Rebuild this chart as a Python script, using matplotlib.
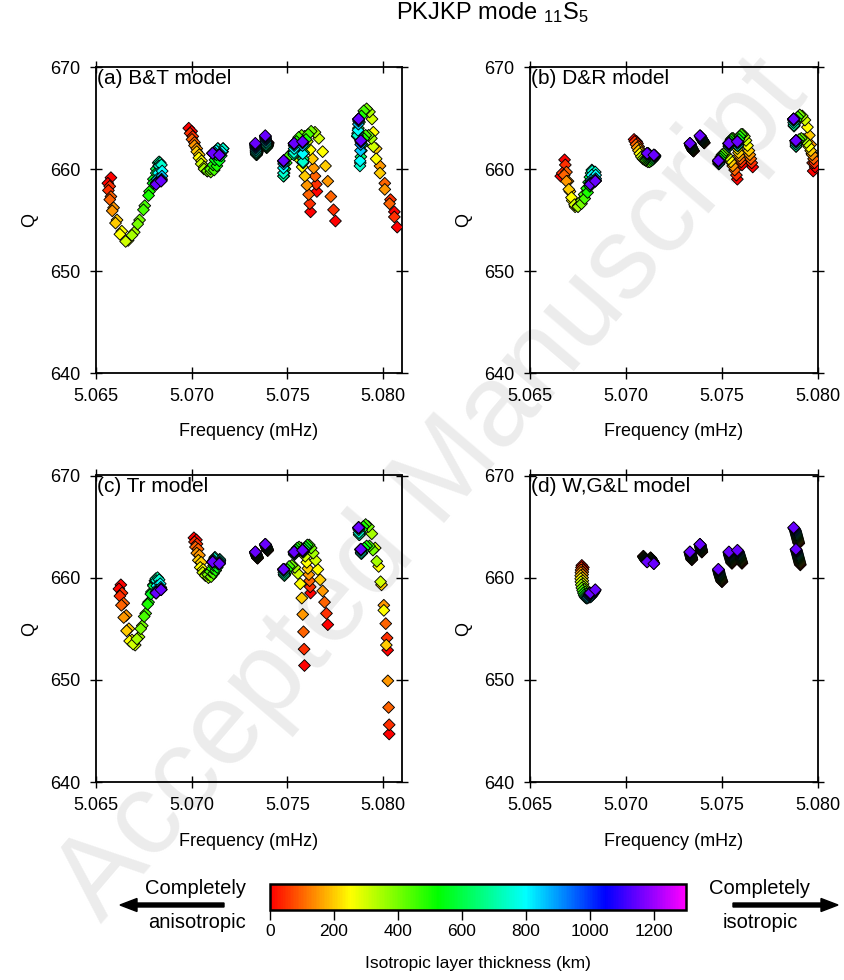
import numpy as np
import matplotlib
matplotlib.use('Agg')
import matplotlib.pyplot as plt
from matplotlib.colors import LinearSegmentedColormap, Normalize
from matplotlib.patches import FancyArrow
import matplotlib.cm as cm

plt.rcParams['font.family'] = ['Liberation Sans', 'DejaVu Sans']
plt.rcParams['mathtext.fontset'] = 'custom'
plt.rcParams['mathtext.rm'] = 'Liberation Sans'
plt.rcParams['mathtext.it'] = 'Liberation Sans:italic'
plt.rcParams['mathtext.bf'] = 'Liberation Sans:bold'
plt.rcParams['mathtext.sf'] = 'Liberation Sans'

# ---------------- data ----------------
THICKNESS_KM = [0, 50, 100, 150, 200, 250, 300, 350, 400, 450, 500, 550,
                600, 650, 700, 750, 800, 850, 900, 950, 1000, 1050, 1100, 1150]

# (a) B&T model : 11 singlets, frequency (mHz) and Q for each thickness
BT_FREQ = [
    [5.06578, 5.06572, 5.06578, 5.06592, 5.06610, 5.06635, 5.06668, 5.06700, 5.06728, 5.06755, 5.06780, 5.06800,
     5.06815, 5.06825, 5.06830, 5.06830, 5.06826, 5.06820, 5.06817, 5.06815, 5.06814, 5.06814, 5.06814, 5.06814],
    [5.06562, 5.06565, 5.06572, 5.06585, 5.06602, 5.06625, 5.06655, 5.06688, 5.06718, 5.06748, 5.06775, 5.06798,
     5.06815, 5.06828, 5.06836, 5.06842, 5.06846, 5.06845, 5.06843, 5.06841, 5.06840, 5.06840, 5.06840, 5.06840],
    [5.06985, 5.06992, 5.07002, 5.07015, 5.07027, 5.07038, 5.07050, 5.07065, 5.07082, 5.07098, 5.07112, 5.07122,
     5.07130, 5.07135, 5.07138, 5.07136, 5.07128, 5.07118, 5.07113, 5.07111, 5.07110, 5.07110, 5.07110, 5.07110],
    [5.07000, 5.07006, 5.07015, 5.07027, 5.07040, 5.07052, 5.07066, 5.07082, 5.07100, 5.07118, 5.07132, 5.07145,
     5.07155, 5.07162, 5.07165, 5.07164, 5.07158, 5.07150, 5.07147, 5.07146, 5.07145, 5.07145, 5.07145, 5.07145],
    [5.07345, 5.07345, 5.07344, 5.07344, 5.07343, 5.07343, 5.07342, 5.07342, 5.07341, 5.07340, 5.07340, 5.07339,
     5.07338, 5.07338, 5.07337, 5.07337, 5.07336, 5.07336, 5.07335, 5.07335, 5.07334, 5.07334, 5.07333, 5.07333],
    [5.07400, 5.07400, 5.07399, 5.07399, 5.07398, 5.07398, 5.07397, 5.07396, 5.07395, 5.07394, 5.07393, 5.07392,
     5.07391, 5.07390, 5.07389, 5.07389, 5.07388, 5.07388, 5.07387, 5.07387, 5.07386, 5.07386, 5.07385, 5.07385],
    [5.07622, 5.07618, 5.07612, 5.07603, 5.07592, 5.07578, 5.07560, 5.07540, 5.07520, 5.07505, 5.07495, 5.07488,
     5.07484, 5.07482, 5.07480, 5.07480, 5.07480, 5.07481, 5.07481, 5.07481, 5.07481, 5.07481, 5.07481, 5.07481],
    [5.07655, 5.07652, 5.07645, 5.07638, 5.07632, 5.07620, 5.07605, 5.07590, 5.07575, 5.07560, 5.07548, 5.07540,
     5.07536, 5.07534, 5.07534, 5.07535, 5.07536, 5.07536, 5.07536, 5.07536, 5.07536, 5.07536, 5.07536, 5.07536],
    [5.07752, 5.07742, 5.07728, 5.07712, 5.07700, 5.07685, 5.07665, 5.07645, 5.07625, 5.07610, 5.07598, 5.07590,
     5.07586, 5.07584, 5.07583, 5.07582, 5.07581, 5.07580, 5.07580, 5.07580, 5.07580, 5.07580, 5.07580, 5.07580],
    [5.08060, 5.08040, 5.08010, 5.07985, 5.07965, 5.07950, 5.07943, 5.07930, 5.07915, 5.07900, 5.07888, 5.07878,
     5.07872, 5.07868, 5.07866, 5.07867, 5.07870, 5.07872, 5.07873, 5.07873, 5.07873, 5.07873, 5.07873, 5.07873],
    [5.08075, 5.08060, 5.08035, 5.08010, 5.07985, 5.07965, 5.07950, 5.07940, 5.07925, 5.07910, 5.07900, 5.07893,
     5.07888, 5.07885, 5.07882, 5.07880, 5.07881, 5.07883, 5.07884, 5.07885, 5.07885, 5.07885, 5.07885, 5.07885],
]
BT_Q = [
    [659.15, 658.3, 657.3, 656.2, 655.0, 653.9, 653.0, 653.8, 655.0, 656.4, 657.8, 659.0,
     660.0, 660.6, 660.7, 660.3, 659.6, 659.0, 658.7, 658.6, 658.55, 658.52, 658.5, 658.5],
    [658.6, 657.9, 657.0, 655.9, 654.7, 653.6, 652.9, 653.5, 654.6, 656.0, 657.4, 658.6,
     659.6, 660.3, 660.6, 660.4, 659.8, 659.3, 659.0, 658.9, 658.85, 658.83, 658.82, 658.82],
    [664.0, 663.5, 662.9, 662.3, 661.7, 661.1, 660.5, 660.0, 659.8, 660.0, 660.4, 660.9,
     661.4, 661.8, 662.0, 662.0, 661.8, 661.65, 661.58, 661.55, 661.54, 661.54, 661.54, 661.54],
    [663.7, 663.2, 662.6, 662.0, 661.4, 660.8, 660.2, 659.8, 659.7, 659.9, 660.3, 660.8,
     661.3, 661.7, 662.0, 662.0, 661.7, 661.5, 661.42, 661.39, 661.38, 661.37, 661.37, 661.37],
    [661.9, 661.85, 661.8, 661.75, 661.7, 661.65, 661.6, 661.55, 661.5, 661.45, 661.4, 661.4,
     661.45, 661.5, 661.6, 661.7, 661.85, 662.0, 662.1, 662.2, 662.3, 662.4, 662.47, 662.52],
    [662.6, 662.55, 662.5, 662.45, 662.4, 662.35, 662.3, 662.25, 662.2, 662.15, 662.1, 662.1,
     662.15, 662.25, 662.35, 662.5, 662.65, 662.8, 662.9, 663.0, 663.1, 663.18, 663.23, 663.27],
    [655.8, 656.6, 657.5, 658.4, 659.3, 660.2, 661.0, 661.5, 661.5, 661.2, 660.6, 660.0,
     659.6, 659.3, 659.3, 659.6, 660.1, 660.5, 660.7, 660.78, 660.8, 660.82, 660.82, 660.82],
    [657.8, 658.5, 659.3, 660.1, 661.0, 661.9, 662.7, 663.2, 663.3, 663.1, 662.7, 662.2,
     661.8, 661.5, 661.4, 661.6, 662.0, 662.3, 662.45, 662.5, 662.52, 662.52, 662.52, 662.52],
    [654.9, 656.0, 657.3, 658.8, 660.3, 661.7, 663.0, 663.6, 663.7, 663.4, 662.9, 662.3,
     661.6, 661.0, 660.6, 660.7, 661.5, 662.3, 662.55, 662.63, 662.66, 662.68, 662.68, 662.68],
    [655.8, 657.0, 658.6, 660.3, 662.0, 663.6, 664.9, 665.6, 665.9, 665.7, 665.2, 664.6,
     664.0, 663.5, 663.2, 663.3, 663.8, 664.4, 664.7, 664.82, 664.87, 664.9, 664.9, 664.9],
    [654.3, 655.3, 656.6, 658.0, 659.6, 661.0, 662.2, 663.0, 663.3, 663.3, 663.0, 662.4,
     661.8, 661.2, 660.6, 660.3, 660.8, 661.8, 662.4, 662.65, 662.74, 662.78, 662.78, 662.78],
]

# (b) D&R model
DR_FREQ = [
    [5.06680, 5.06684, 5.06690, 5.06698, 5.06708, 5.06720, 5.06735, 5.06752, 5.06768, 5.06782, 5.06795, 5.06805,
     5.06812, 5.06818, 5.06822, 5.06824, 5.06822, 5.06818, 5.06815, 5.06814, 5.06814, 5.06814, 5.06814, 5.06814],
    [5.06660, 5.06668, 5.06678, 5.06690, 5.06702, 5.06716, 5.06732, 5.06750, 5.06768, 5.06785, 5.06800, 5.06812,
     5.06822, 5.06830, 5.06836, 5.06840, 5.06842, 5.06842, 5.06841, 5.06840, 5.06840, 5.06840, 5.06840, 5.06840],
    [5.07042, 5.07046, 5.07052, 5.07058, 5.07065, 5.07072, 5.07080, 5.07088, 5.07096, 5.07104, 5.07110, 5.07115,
     5.07118, 5.07120, 5.07120, 5.07119, 5.07118, 5.07116, 5.07114, 5.07113, 5.07112, 5.07111, 5.07110, 5.07110],
    [5.07055, 5.07060, 5.07066, 5.07073, 5.07080, 5.07088, 5.07096, 5.07105, 5.07114, 5.07123, 5.07131, 5.07138,
     5.07143, 5.07147, 5.07150, 5.07151, 5.07151, 5.07150, 5.07149, 5.07148, 5.07147, 5.07146, 5.07145, 5.07145],
    [5.07352, 5.07351, 5.07350, 5.07349, 5.07348, 5.07347, 5.07346, 5.07345, 5.07344, 5.07343, 5.07342, 5.07341,
     5.07340, 5.07339, 5.07338, 5.07337, 5.07336, 5.07336, 5.07335, 5.07335, 5.07334, 5.07334, 5.07333, 5.07333],
    [5.07408, 5.07407, 5.07406, 5.07405, 5.07404, 5.07403, 5.07402, 5.07401, 5.07400, 5.07399, 5.07398, 5.07397,
     5.07396, 5.07395, 5.07394, 5.07393, 5.07392, 5.07391, 5.07390, 5.07389, 5.07388, 5.07387, 5.07386, 5.07385],
    [5.07580, 5.07575, 5.07566, 5.07556, 5.07546, 5.07536, 5.07526, 5.07516, 5.07508, 5.07500, 5.07494, 5.07490,
     5.07487, 5.07485, 5.07484, 5.07483, 5.07483, 5.07482, 5.07482, 5.07482, 5.07481, 5.07481, 5.07481, 5.07481],
    [5.07604, 5.07600, 5.07595, 5.07590, 5.07586, 5.07580, 5.07572, 5.07565, 5.07558, 5.07552, 5.07547, 5.07543,
     5.07540, 5.07538, 5.07537, 5.07536, 5.07536, 5.07536, 5.07536, 5.07536, 5.07536, 5.07536, 5.07536, 5.07536],
    [5.07660, 5.07655, 5.07650, 5.07645, 5.07640, 5.07633, 5.07625, 5.07617, 5.07608, 5.07600, 5.07593, 5.07588,
     5.07585, 5.07583, 5.07582, 5.07581, 5.07581, 5.07580, 5.07580, 5.07580, 5.07580, 5.07580, 5.07580, 5.07580],
    [5.07975, 5.07972, 5.07968, 5.07962, 5.07955, 5.07945, 5.07932, 5.07918, 5.07905, 5.07895, 5.07887, 5.07881,
     5.07877, 5.07875, 5.07874, 5.07873, 5.07873, 5.07873, 5.07873, 5.07873, 5.07873, 5.07873, 5.07873, 5.07873],
    [5.07985, 5.07982, 5.07977, 5.07970, 5.07962, 5.07952, 5.07940, 5.07926, 5.07913, 5.07902, 5.07894, 5.07889,
     5.07887, 5.07886, 5.07885, 5.07885, 5.07885, 5.07885, 5.07885, 5.07885, 5.07885, 5.07885, 5.07885, 5.07885],
]
DR_Q = [
    [660.9, 660.4, 659.7, 658.8, 657.8, 656.9, 656.3, 656.4, 656.9, 657.5, 658.1, 658.7,
     659.2, 659.6, 659.9, 659.8, 659.4, 658.9, 658.65, 658.55, 658.52, 658.5, 658.5, 658.5],
    [659.3, 659.6, 659.4, 658.8, 658.0, 657.2, 656.5, 656.3, 656.6, 657.1, 657.7, 658.3,
     658.9, 659.4, 659.7, 659.7, 659.4, 659.05, 658.9, 658.85, 658.83, 658.82, 658.82, 658.82],
    [662.9, 662.7, 662.4, 662.1, 661.8, 661.5, 661.2, 661.0, 660.9, 660.9, 661.0, 661.1,
     661.2, 661.3, 661.4, 661.45, 661.5, 661.5, 661.5, 661.5, 661.52, 661.53, 661.54, 661.54],
    [662.7, 662.5, 662.2, 661.9, 661.6, 661.3, 661.0, 660.8, 660.7, 660.7, 660.8, 660.9,
     661.0, 661.1, 661.2, 661.25, 661.3, 661.3, 661.32, 661.33, 661.35, 661.36, 661.37, 661.37],
    [661.75, 661.78, 661.81, 661.84, 661.87, 661.9, 661.93, 661.96, 662.0, 662.04, 662.08, 662.12,
     662.16, 662.2, 662.24, 662.28, 662.32, 662.36, 662.4, 662.43, 662.46, 662.49, 662.51, 662.52],
    [662.55, 662.58, 662.61, 662.64, 662.67, 662.7, 662.73, 662.76, 662.79, 662.82, 662.85, 662.88,
     662.91, 662.94, 662.97, 663.0, 663.04, 663.08, 663.12, 663.16, 663.2, 663.23, 663.25, 663.27],
    [659.0, 659.4, 659.9, 660.3, 660.7, 661.0, 661.3, 661.5, 661.5, 661.4, 661.2, 661.0,
     660.8, 660.6, 660.5, 660.5, 660.6, 660.72, 660.78, 660.81, 660.82, 660.82, 660.82, 660.82],
    [660.4, 660.7, 661.0, 661.3, 661.6, 662.0, 662.4, 662.8, 663.0, 663.0, 662.9, 662.7,
     662.5, 662.3, 662.2, 662.2, 662.35, 662.45, 662.5, 662.52, 662.52, 662.52, 662.52, 662.52],
    [660.2, 660.6, 661.0, 661.4, 661.8, 662.3, 662.8, 663.2, 663.4, 663.4, 663.2, 662.9,
     662.6, 662.4, 662.25, 662.3, 662.5, 662.62, 662.66, 662.68, 662.68, 662.68, 662.68, 662.68],
    [659.8, 660.6, 661.5, 662.4, 663.3, 664.1, 664.8, 665.2, 665.3, 665.1, 664.8, 664.5,
     664.3, 664.2, 664.3, 664.55, 664.75, 664.85, 664.88, 664.9, 664.9, 664.9, 664.9, 664.9],
    [660.2, 660.6, 661.0, 661.4, 661.8, 662.2, 662.6, 662.9, 663.0, 662.9, 662.7, 662.5,
     662.3, 662.2, 662.25, 662.45, 662.62, 662.72, 662.76, 662.78, 662.78, 662.78, 662.78, 662.78],
]

# (c) Tr model
TR_FREQ = [
    [5.06630, 5.06636, 5.06645, 5.06658, 5.06672, 5.06688, 5.06705, 5.06725, 5.06742, 5.06760, 5.06775, 5.06790,
     5.06800, 5.06808, 5.06813, 5.06816, 5.06818, 5.06817, 5.06815, 5.06814, 5.06814, 5.06814, 5.06814, 5.06814],
    [5.06620, 5.06625, 5.06633, 5.06645, 5.06660, 5.06676, 5.06694, 5.06714, 5.06734, 5.06752, 5.06770, 5.06787,
     5.06800, 5.06812, 5.06822, 5.06830, 5.06836, 5.06839, 5.06840, 5.06840, 5.06840, 5.06840, 5.06840, 5.06840],
    [5.07012, 5.07015, 5.07020, 5.07027, 5.07035, 5.07045, 5.07058, 5.07072, 5.07085, 5.07098, 5.07108, 5.07115,
     5.07120, 5.07122, 5.07122, 5.07120, 5.07115, 5.07112, 5.07110, 5.07110, 5.07110, 5.07110, 5.07110, 5.07110],
    [5.07025, 5.07028, 5.07034, 5.07041, 5.07050, 5.07060, 5.07073, 5.07088, 5.07102, 5.07115, 5.07126, 5.07134,
     5.07140, 5.07144, 5.07147, 5.07148, 5.07147, 5.07146, 5.07145, 5.07145, 5.07145, 5.07145, 5.07145, 5.07145],
    [5.07345, 5.07344, 5.07344, 5.07343, 5.07343, 5.07342, 5.07342, 5.07341, 5.07340, 5.07340, 5.07339, 5.07338,
     5.07338, 5.07337, 5.07337, 5.07336, 5.07336, 5.07335, 5.07335, 5.07334, 5.07334, 5.07333, 5.07333, 5.07333],
    [5.07398, 5.07397, 5.07397, 5.07396, 5.07396, 5.07395, 5.07395, 5.07394, 5.07393, 5.07393, 5.07392, 5.07391,
     5.07391, 5.07390, 5.07389, 5.07389, 5.07388, 5.07388, 5.07387, 5.07387, 5.07386, 5.07386, 5.07385, 5.07385],
    [5.07590, 5.07588, 5.07585, 5.07581, 5.07576, 5.07568, 5.07556, 5.07540, 5.07524, 5.07510, 5.07500, 5.07493,
     5.07488, 5.07485, 5.07483, 5.07482, 5.07482, 5.07481, 5.07481, 5.07481, 5.07481, 5.07481, 5.07481, 5.07481],
    [5.07622, 5.07620, 5.07617, 5.07613, 5.07608, 5.07602, 5.07594, 5.07584, 5.07573, 5.07562, 5.07552, 5.07545,
     5.07540, 5.07538, 5.07537, 5.07536, 5.07536, 5.07536, 5.07536, 5.07536, 5.07536, 5.07536, 5.07536, 5.07536],
    [5.07712, 5.07705, 5.07695, 5.07685, 5.07672, 5.07660, 5.07648, 5.07636, 5.07625, 5.07615, 5.07605, 5.07597,
     5.07590, 5.07586, 5.07583, 5.07582, 5.07581, 5.07581, 5.07580, 5.07580, 5.07580, 5.07580, 5.07580, 5.07580],
    [5.08025, 5.08022, 5.08015, 5.08005, 5.07993, 5.07978, 5.07960, 5.07942, 5.07925, 5.07910, 5.07898, 5.07889,
     5.07882, 5.07878, 5.07876, 5.07875, 5.07874, 5.07874, 5.07873, 5.07873, 5.07873, 5.07873, 5.07873, 5.07873],
    [5.08033, 5.08033, 5.08030, 5.08026, 5.08018, 5.08005, 5.07988, 5.07968, 5.07948, 5.07930, 5.07915, 5.07903,
     5.07895, 5.07890, 5.07887, 5.07886, 5.07885, 5.07885, 5.07885, 5.07885, 5.07885, 5.07885, 5.07885, 5.07885],
]
TR_Q = [
    [659.3, 658.5, 657.5, 656.3, 655.0, 653.9, 653.4, 654.2, 655.3, 656.5, 657.6, 658.6,
     659.3, 659.7, 659.9, 659.7, 659.2, 658.8, 658.6, 658.53, 658.5, 658.5, 658.5, 658.5],
    [658.9, 658.2, 657.3, 656.1, 654.8, 653.8, 653.5, 654.0, 655.0, 656.2, 657.4, 658.4,
     659.2, 659.7, 660.0, 659.8, 659.4, 659.05, 658.9, 658.84, 658.82, 658.82, 658.82, 658.82],
    [663.9, 663.5, 663.0, 662.4, 661.7, 661.0, 660.5, 660.2, 660.3, 660.6, 660.9, 661.2,
     661.5, 661.8, 662.0, 661.9, 661.7, 661.6, 661.56, 661.54, 661.54, 661.54, 661.54, 661.54],
    [663.7, 663.3, 662.8, 662.2, 661.5, 660.8, 660.3, 660.0, 660.1, 660.4, 660.7, 661.0,
     661.3, 661.6, 661.8, 661.7, 661.55, 661.45, 661.4, 661.38, 661.37, 661.37, 661.37, 661.37],
    [661.9, 661.93, 661.96, 661.99, 662.02, 662.05, 662.08, 662.11, 662.14, 662.17, 662.2, 662.23,
     662.26, 662.29, 662.32, 662.35, 662.38, 662.41, 662.44, 662.46, 662.48, 662.5, 662.51, 662.52],
    [662.65, 662.68, 662.71, 662.74, 662.77, 662.8, 662.83, 662.86, 662.89, 662.92, 662.95, 662.98,
     663.01, 663.04, 663.07, 663.1, 663.13, 663.16, 663.19, 663.21, 663.23, 663.25, 663.26, 663.27],
    [651.4, 653.0, 654.7, 656.4, 658.0, 659.4, 660.4, 661.0, 661.2, 661.1, 660.8, 660.5,
     660.3, 660.2, 660.3, 660.5, 660.68, 660.77, 660.8, 660.82, 660.82, 660.82, 660.82, 660.82],
    [658.5, 659.1, 659.7, 660.3, 660.9, 661.5, 662.1, 662.6, 662.9, 663.0, 662.9, 662.7,
     662.5, 662.35, 662.25, 662.3, 662.42, 662.49, 662.51, 662.52, 662.52, 662.52, 662.52, 662.52],
    [655.4, 656.5, 657.6, 658.7, 659.8, 660.8, 661.7, 662.4, 662.9, 663.2, 663.2, 663.0,
     662.8, 662.6, 662.5, 662.5, 662.6, 662.65, 662.67, 662.68, 662.68, 662.68, 662.68, 662.68],
    [652.9, 654.1, 655.5, 657.3, 659.3, 661.1, 662.9, 664.3, 665.0, 665.2, 665.0, 664.7,
     664.4, 664.2, 664.2, 664.4, 664.7, 664.84, 664.88, 664.9, 664.9, 664.9, 664.9, 664.9],
    [644.7, 645.6, 647.3, 649.9, 653.4, 656.8, 659.6, 661.6, 662.7, 663.1, 663.1, 662.9,
     662.6, 662.4, 662.35, 662.45, 662.65, 662.74, 662.77, 662.78, 662.78, 662.78, 662.78, 662.78],
]

# (d) W,G&L model
WGL_FREQ = [
    [5.06770, 5.06768, 5.06766, 5.06765, 5.06764, 5.06764, 5.06765, 5.06767, 5.06770, 5.06774, 5.06778, 5.06782,
     5.06786, 5.06790, 5.06794, 5.06798, 5.06801, 5.06804, 5.06807, 5.06809, 5.06811, 5.06812, 5.06813, 5.06814],
    [5.06778, 5.06776, 5.06775, 5.06774, 5.06774, 5.06775, 5.06777, 5.06780, 5.06784, 5.06788, 5.06793, 5.06798,
     5.06803, 5.06808, 5.06813, 5.06818, 5.06822, 5.06826, 5.06830, 5.06833, 5.06836, 5.06838, 5.06839, 5.06840],
    [5.07090, 5.07091, 5.07092, 5.07093, 5.07094, 5.07095, 5.07096, 5.07097, 5.07098, 5.07099, 5.07100, 5.07101,
     5.07102, 5.07103, 5.07104, 5.07105, 5.07106, 5.07107, 5.07107, 5.07108, 5.07109, 5.07109, 5.07110, 5.07110],
    [5.07128, 5.07129, 5.07129, 5.07130, 5.07131, 5.07132, 5.07133, 5.07134, 5.07135, 5.07136, 5.07137, 5.07138,
     5.07139, 5.07139, 5.07140, 5.07141, 5.07141, 5.07142, 5.07143, 5.07143, 5.07144, 5.07144, 5.07145, 5.07145],
    [5.07343, 5.07343, 5.07342, 5.07342, 5.07341, 5.07341, 5.07340, 5.07340, 5.07339, 5.07339, 5.07338, 5.07338,
     5.07337, 5.07337, 5.07336, 5.07336, 5.07335, 5.07335, 5.07334, 5.07334, 5.07334, 5.07333, 5.07333, 5.07333],
    [5.07395, 5.07395, 5.07394, 5.07394, 5.07393, 5.07393, 5.07392, 5.07392, 5.07391, 5.07391, 5.07390, 5.07390,
     5.07389, 5.07389, 5.07388, 5.07388, 5.07387, 5.07387, 5.07386, 5.07386, 5.07386, 5.07385, 5.07385, 5.07385],
    [5.07500, 5.07499, 5.07498, 5.07497, 5.07496, 5.07495, 5.07494, 5.07493, 5.07492, 5.07491, 5.07490, 5.07489,
     5.07488, 5.07487, 5.07486, 5.07485, 5.07485, 5.07484, 5.07483, 5.07483, 5.07482, 5.07482, 5.07481, 5.07481],
    [5.07552, 5.07551, 5.07550, 5.07550, 5.07549, 5.07548, 5.07547, 5.07546, 5.07546, 5.07545, 5.07544, 5.07543,
     5.07542, 5.07542, 5.07541, 5.07540, 5.07539, 5.07539, 5.07538, 5.07538, 5.07537, 5.07537, 5.07536, 5.07536],
    [5.07604, 5.07603, 5.07602, 5.07601, 5.07600, 5.07599, 5.07598, 5.07597, 5.07596, 5.07595, 5.07594, 5.07593,
     5.07592, 5.07591, 5.07590, 5.07589, 5.07588, 5.07587, 5.07586, 5.07585, 5.07584, 5.07582, 5.07581, 5.07580],
    [5.07900, 5.07899, 5.07898, 5.07897, 5.07896, 5.07895, 5.07894, 5.07893, 5.07892, 5.07891, 5.07890, 5.07889,
     5.07888, 5.07887, 5.07886, 5.07885, 5.07884, 5.07883, 5.07882, 5.07880, 5.07878, 5.07876, 5.07874, 5.07873],
    [5.07908, 5.07907, 5.07906, 5.07905, 5.07904, 5.07903, 5.07902, 5.07901, 5.07900, 5.07899, 5.07898, 5.07897,
     5.07896, 5.07895, 5.07894, 5.07893, 5.07892, 5.07891, 5.07890, 5.07889, 5.07888, 5.07887, 5.07886, 5.07885],
]
WGL_Q = [
    [661.2, 661.0, 660.75, 660.5, 660.2, 659.9, 659.6, 659.3, 659.0, 658.75, 658.5, 658.3,
     658.15, 658.05, 658.0, 658.0, 658.05, 658.1, 658.2, 658.28, 658.35, 658.42, 658.47, 658.5],
    [661.0, 660.8, 660.55, 660.3, 660.0, 659.7, 659.4, 659.1, 658.85, 658.6, 658.4, 658.25,
     658.15, 658.1, 658.1, 658.15, 658.25, 658.35, 658.45, 658.55, 658.65, 658.72, 658.78, 658.82],
    [662.1, 662.07, 662.04, 662.01, 661.98, 661.95, 661.92, 661.89, 661.86, 661.83, 661.8, 661.78,
     661.76, 661.73, 661.71, 661.68, 661.66, 661.63, 661.61, 661.59, 661.57, 661.56, 661.55, 661.54],
    [661.95, 661.92, 661.89, 661.86, 661.83, 661.8, 661.77, 661.74, 661.71, 661.68, 661.65, 661.62,
     661.6, 661.57, 661.55, 661.52, 661.5, 661.48, 661.46, 661.44, 661.42, 661.4, 661.38, 661.37],
    [661.75, 661.79, 661.83, 661.87, 661.91, 661.94, 661.97, 662.0, 662.04, 662.08, 662.12, 662.16,
     662.2, 662.24, 662.28, 662.31, 662.34, 662.37, 662.4, 662.43, 662.46, 662.49, 662.51, 662.52],
    [662.5, 662.54, 662.58, 662.62, 662.66, 662.7, 662.74, 662.77, 662.8, 662.84, 662.88, 662.92,
     662.96, 663.0, 663.04, 663.08, 663.12, 663.15, 663.18, 663.21, 663.23, 663.25, 663.26, 663.27],
    [659.6, 659.65, 659.7, 659.75, 659.8, 659.86, 659.92, 659.98, 660.04, 660.1, 660.16, 660.22,
     660.28, 660.34, 660.4, 660.46, 660.52, 660.58, 660.63, 660.68, 660.73, 660.77, 660.8, 660.82],
    [661.4, 661.45, 661.5, 661.55, 661.6, 661.65, 661.7, 661.75, 661.8, 661.85, 661.9, 661.95,
     662.0, 662.05, 662.1, 662.15, 662.2, 662.25, 662.3, 662.35, 662.4, 662.45, 662.49, 662.52],
    [661.4, 661.46, 661.52, 661.58, 661.64, 661.7, 661.76, 661.82, 661.88, 661.94, 662.0, 662.06,
     662.12, 662.18, 662.24, 662.3, 662.36, 662.42, 662.48, 662.53, 662.58, 662.62, 662.65, 662.68],
    [663.35, 663.42, 663.49, 663.56, 663.63, 663.7, 663.77, 663.84, 663.91, 663.98, 664.05, 664.12,
     664.19, 664.26, 664.33, 664.4, 664.47, 664.54, 664.61, 664.68, 664.75, 664.81, 664.86, 664.9],
    [661.25, 661.32, 661.39, 661.46, 661.53, 661.6, 661.67, 661.74, 661.81, 661.88, 661.95, 662.02,
     662.09, 662.16, 662.23, 662.3, 662.37, 662.44, 662.51, 662.57, 662.63, 662.69, 662.74, 662.78],
]

PANEL_LABELS = ['(a) B&T model', '(b) D&R model', '(c) Tr model', '(d) W,G&L model']
X_TICKS = [5.065, 5.070, 5.075, 5.080]
Y_TICKS = [640, 650, 660, 670]
CB_TICKS = [0, 200, 400, 600, 800, 1000, 1200]
CB_RANGE = (0, 1300)

# ---------------- figure ----------------
W, H = 844, 980
fig = plt.figure(figsize=(W / 100, H / 100), dpi=100)


def fx(px):
    return px / W


def fy(py):
    return 1 - py / H


cmap = LinearSegmentedColormap.from_list(
    'iso', [(0.0, '#ff0000'), (250 / 1300, '#ffff00'), (525 / 1300, '#00ff00'),
            (800 / 1300, '#00ffff'), (1050 / 1300, '#0000ff'), (1.0, '#ff00ff')])
norm = Normalize(*CB_RANGE)

# faint watermark behind everything
fig.text(fx(432), fy(490), 'Accepted Manuscript', fontsize=84, rotation=49.5,
         color='#ececec', ha='center', va='center', rotation_mode='anchor', zorder=-5)

panels = [
    (BT_FREQ, BT_Q, PANEL_LABELS[0], (96, 67, 402, 373), (5.065, 5.081)),
    (DR_FREQ, DR_Q, PANEL_LABELS[1], (530, 67, 818, 373), (5.065, 5.080)),
    (TR_FREQ, TR_Q, PANEL_LABELS[2], (96, 475.5, 402, 782), (5.065, 5.081)),
    (WGL_FREQ, WGL_Q, PANEL_LABELS[3], (530, 475.5, 818, 782), (5.065, 5.080)),
]

for freqs, qs, label, (l, t, r, b), xlim in panels:
    ax = fig.add_axes([fx(l), fy(b), (r - l) / W, (b - t) / H])
    ax.set_facecolor('none')
    f_all, q_all, t_all = [], [], []
    for tf, tq in zip(freqs, qs):
        f_all += list(tf)
        q_all += list(tq)
        t_all += THICKNESS_KM
    f_all = np.array(f_all)
    q_all = np.array(q_all)
    t_all = np.array(t_all)
    order = np.argsort(t_all, kind='stable')
    ax.scatter(f_all[order], q_all[order], c=t_all[order], cmap=cmap, norm=norm,
               marker='D', s=36, edgecolors='black', linewidths=0.65, zorder=3)
    ax.set_xlim(*xlim)
    ax.set_ylim(640, 670)
    ax.set_xticks(X_TICKS)
    ax.set_xticklabels(['%.3f' % v for v in X_TICKS])
    ax.set_yticks(Y_TICKS)
    ax.set_yticklabels([str(v) for v in Y_TICKS])
    ax.tick_params(direction='inout', length=8, width=1.0, top=True, right=True,
                   labelsize=13, pad=7, colors='black')
    for sp in ax.spines.values():
        sp.set_linewidth(1.3)
    ax.text(0.004, 0.995, label, transform=ax.transAxes, ha='left', va='top', fontsize=15)
    cx = (l + r) / 2
    fig.text(fx(cx), fy(b + 59), 'Frequency (mHz)', ha='center', va='center', fontsize=13)
    fig.text(fx(l - 66), fy((t + b) / 2), 'Q', ha='center', va='center', rotation=90, fontsize=13)

# title
fig.text(fx(492), fy(19), r'PKJKP mode ${}_{11}\mathrm{S}_{5}$', ha='center', va='baseline', fontsize=17)

# colour bar
cax = fig.add_axes([fx(270), fy(910), (686 - 270) / W, 26 / H])
cb = fig.colorbar(cm.ScalarMappable(norm=norm, cmap=cmap), cax=cax, orientation='horizontal', ticks=CB_TICKS)
cb.outline.set_linewidth(1.8)
cax.tick_params(direction='out', length=7, width=1.0, labelsize=12.5, pad=3)
fig.text(fx(478), fy(963), 'Isotropic layer thickness (km)', ha='center', va='center', fontsize=12.5)

# end-member annotations with arrows
fig.text(fx(196), fy(888), 'Completely', ha='center', va='center', fontsize=14.5)
fig.text(fx(197), fy(922), 'anisotropic', ha='center', va='center', fontsize=14.5)
fig.text(fx(760), fy(888), 'Completely', ha='center', va='center', fontsize=14.5)
fig.text(fx(760), fy(922), 'isotropic', ha='center', va='center', fontsize=14.5)

fig.add_artist(FancyArrow(fx(224), fy(905), fx(120) - fx(224), 0, width=4 / H,
                          head_width=13 / H, head_length=17 / W, length_includes_head=True,
                          color='black', transform=fig.transFigure))
fig.add_artist(FancyArrow(fx(733), fy(905), fx(838) - fx(733), 0, width=4 / H,
                          head_width=13 / H, head_length=17 / W, length_includes_head=True,
                          color='black', transform=fig.transFigure))

fig.savefig('out.png', dpi=100)
